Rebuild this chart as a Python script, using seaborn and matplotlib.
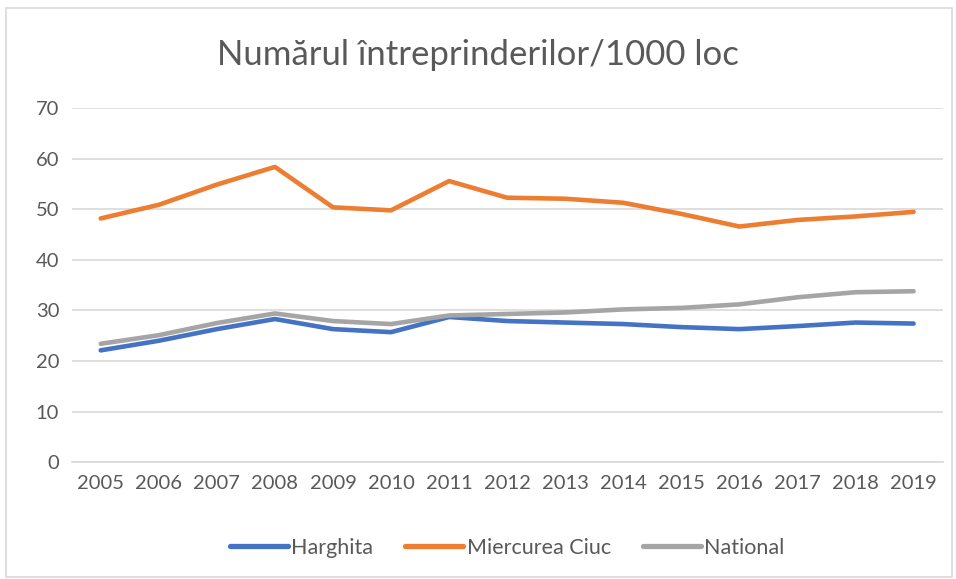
import numpy as np
import pandas as pd
import matplotlib
matplotlib.use('Agg')
import matplotlib.pyplot as plt
from matplotlib.patches import Rectangle
import seaborn as sns

sns.set_style("white")
plt.rcParams['font.family'] = ['Lato', 'DejaVu Sans']

years = [str(y) for y in range(2005, 2020)]
harghita = [22.1, 24.0, 26.3, 28.3, 26.3, 25.7, 28.7, 27.9, 27.6, 27.3, 26.7, 26.3, 26.9, 27.6, 27.4]
miercurea_ciuc = [48.2, 50.9, 54.9, 58.4, 50.4, 49.8, 55.6, 52.3, 52.1, 51.3, 49.1, 46.6, 47.9, 48.6, 49.5]
national = [23.4, 25.1, 27.5, 29.4, 27.9, 27.3, 29.0, 29.3, 29.6, 30.2, 30.5, 31.2, 32.6, 33.6, 33.8]

series_names = ['Harghita', 'Miercurea Ciuc', 'National']
colors = ['#4472C4', '#ED7D31', '#A5A5A5']

df = pd.DataFrame({'An': years * 3,
                   'Valoare': harghita + miercurea_ciuc + national,
                   'Serie': np.repeat(series_names, len(years))})

fig = plt.figure(figsize=(9.56, 5.79), dpi=100)
fig.patches.append(Rectangle((0.006, 0.004), 0.99, 0.982, transform=fig.transFigure,
                             fill=False, edgecolor='#D9D9D9', linewidth=1.2))
ax = fig.add_axes([0.075, 0.202, 0.911, 0.611])

sns.lineplot(data=df, x='An', y='Valoare', hue='Serie', palette=colors,
             linewidth=3.3, ax=ax, sort=False, solid_capstyle='round')

ax.set_ylim(0, 70)
ax.set_xlim(-0.5, len(years) - 0.5)
ax.set_yticks(range(0, 71, 10))
ax.yaxis.grid(True, color='#D9D9D9', linewidth=1.2)
ax.xaxis.grid(False)
for s in ['top', 'right', 'left']:
    ax.spines[s].set_visible(False)
ax.spines['bottom'].set_color('#D9D9D9')
ax.spines['bottom'].set_linewidth(1.2)
ax.tick_params(axis='both', length=0, labelsize=14.5, labelcolor='#595959', pad=9)
ax.set_xlabel('')
ax.set_ylabel('')

fig.text(0.5, 0.905, 'Numărul întreprinderilor/1000 loc', ha='center', va='center',
         fontsize=25, color='#595959')

leg = ax.legend(loc='upper center', bbox_to_anchor=(0.5, -0.16), ncol=3, frameon=False,
                fontsize=15.5, handlelength=2.7, handletextpad=0.15, columnspacing=1.5)
for t in leg.get_texts():
    t.set_color('#595959')
for h in leg.get_lines():
    h.set_linewidth(3.8)

fig.savefig('out.png', dpi=100)
